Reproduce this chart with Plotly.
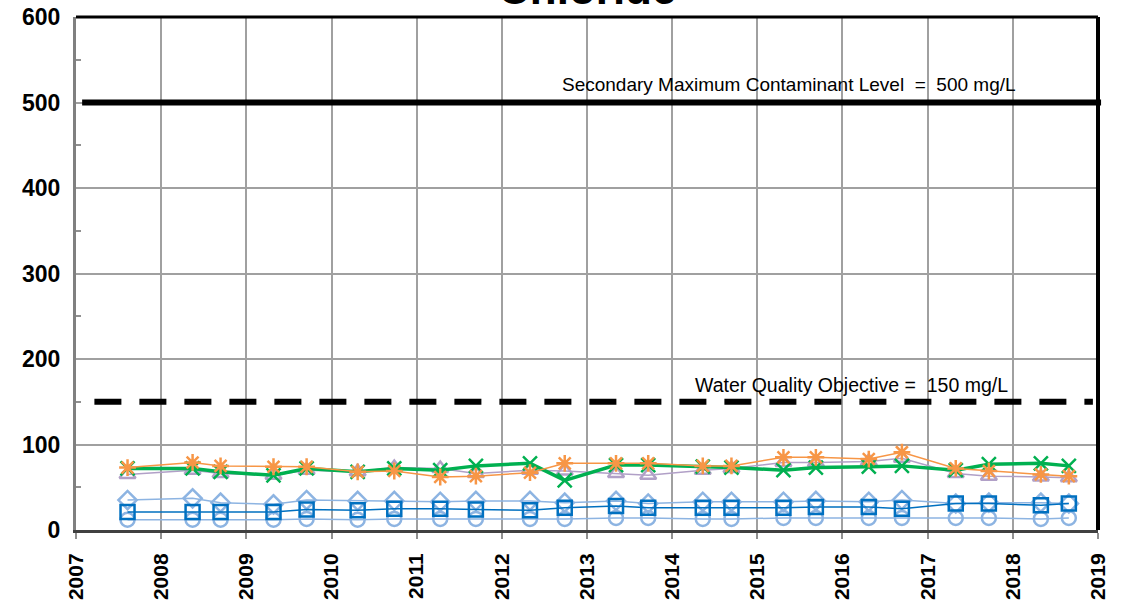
import plotly.graph_objects as go

# sample dates (semi-annual monitoring)
dates = ["2007-08-10", "2008-05-15", "2008-09-12", "2009-04-27", "2009-09-16",
         "2010-04-23", "2010-09-27", "2011-04-12", "2011-09-12", "2012-05-01",
         "2012-09-27", "2013-05-05", "2013-09-20", "2014-05-12", "2014-09-12",
         "2015-04-23", "2015-09-09", "2016-04-23", "2016-09-12", "2017-05-01",
         "2017-09-20", "2018-05-01", "2018-08-29"]

# chloride, mg/L
orange_vals = [73, 79, 75, 74, 74, 68, 69, 62, 63, 67, 78, 78, 78, 75, 75,
               85, 85, 83, 91, 72, 69, 65, 63]
green_vals = [72, 72, 68, 64, 72, 68, 72, 70, 75, 78, 58, 76, 76, 74, 73,
              70, 73, 74, 75, 70, 77, 78, 75]
purple_vals = [65, 70, 66, 64, 70, 68, 73, 72, 66, 70, 69, 66, 64, 70, 72,
               79, 79, 80, 84, 66, 63, 62, 61]
diamond_vals = [35, 37, 32, 30, 35, 34, 34, 33, 34, 34, 32, 34, 31, 33, 33,
                33, 34, 33, 35, 31, 32, 32, 31]
square_vals = [21, 21, 21, 21, 24, 23, 25, 25, 24, 23, 26, 28, 26, 26, 26,
               26, 27, 27, 25, 31, 31, 29, 31]
circle_vals = [12, 12, 12, 12, 13, 12, 13, 13, 13, 13, 13, 14, 14, 13, 13,
               14, 14, 14, 14, 14, 14, 13, 14]

smcl = 500
wqo = 150

FONT = "Arial, Liberation Sans, sans-serif"

fig = go.Figure()

series = [
    (circle_vals, "#8DB4E2", "circle-open", 1.5),
    (diamond_vals, "#8DB4E2", "diamond-open", 1.5),
    (square_vals, "#0070C0", "square-open", 1.5),
    (purple_vals, "#B1A0C7", "triangle-up-open", 1.5),
    (green_vals, "#00B050", "x-thin-open", 3.5),
    (orange_vals, "#F79646", "asterisk-open", 1.5),
]
for vals, col, sym, lw in series:
    fig.add_trace(go.Scatter(
        x=dates, y=vals, mode="lines+markers",
        line=dict(color=col, width=lw),
        marker=dict(symbol=sym, size=14, color=col, line=dict(color=col, width=2.5)),
        showlegend=False,
    ))

# regulatory levels
fig.add_shape(type="line", xref="paper", yref="y", x0=0.006, x1=1.003, y0=smcl, y1=smcl,
              line=dict(color="black", width=6))
fig.add_shape(type="line", xref="paper", yref="y", x0=0.018, x1=0.995, y0=wqo, y1=wqo,
              line=dict(color="black", width=6, dash="27px,18px"))

fig.add_annotation(text="Secondary Maximum Contaminant Level  =  500 mg/L",
                   xref="paper", x=0.922, xanchor="right", yref="y", y=smcl,
                   yanchor="bottom", yshift=5, showarrow=False,
                   font=dict(family=FONT, size=19, color="black"))
fig.add_annotation(text="Water Quality Objective =  150 mg/L",
                   xref="paper", x=0.914, xanchor="right", yref="y", y=wqo,
                   yanchor="bottom", yshift=4, showarrow=False,
                   font=dict(family=FONT, size=19.5, color="black"))

# title sits mostly above the top edge, as in the source chart
fig.add_annotation(text="<b>Chloride</b>", xref="paper", x=0.5, xanchor="center",
                   yref="paper", y=1, yanchor="bottom", yshift=2, showarrow=False,
                   font=dict(family=FONT, size=44, color="black"))

# frame: heavy top/right border
fig.add_shape(type="line", xref="paper", yref="paper", x0=0, x1=1, y0=1, y1=1,
              line=dict(color="black", width=3))
fig.add_shape(type="line", xref="paper", yref="paper", x0=1, x1=1, y0=0, y1=1,
              line=dict(color="black", width=4))

fig.update_xaxes(
    type="date", range=["2007-01-01", "2019-01-01"], dtick="M12", tick0="2007-01-01",
    tickformat="%Y", tickangle=-90, automargin=False, ticklabelstandoff=6,
    tickfont=dict(family=FONT, size=21, color="black", weight="bold"),
    showgrid=True, gridcolor="#A0A0A0", gridwidth=2,
    showline=True, linecolor="#404040", linewidth=3,
    ticks="outside", ticklen=6, tickcolor="#909090", tickwidth=2,
    zeroline=False,
)
fig.update_yaxes(
    range=[0, 600], dtick=100, automargin=False, ticklabelstandoff=8,
    tickfont=dict(family=FONT, size=23, color="black", weight="bold"),
    showgrid=True, gridcolor="#A0A0A0", gridwidth=2,
    showline=True, linecolor="#808080", linewidth=3,
    ticks="", zeroline=False,
    minor=dict(dtick=50, ticks="inside", ticklen=5, tickcolor="#909090", tickwidth=2,
               showgrid=False),
)

fig.update_layout(
    width=1123, height=608,
    margin=dict(l=76, r=25, t=17, b=78),
    plot_bgcolor="white", paper_bgcolor="white",
    font=dict(family=FONT, color="black"),
)

# drop the default page margin so the figure fills the window
fig.write_html("out.html", config={"displayModeBar": False},
               post_script="document.body.style.margin='0';")
